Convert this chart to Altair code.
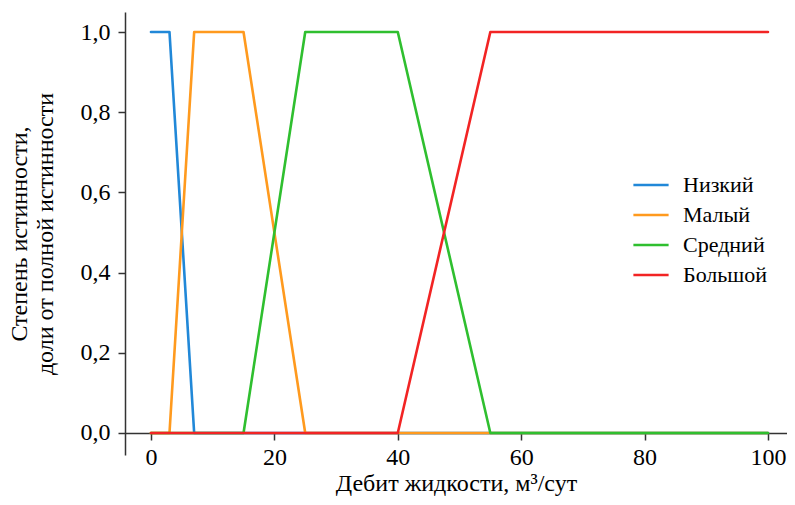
import altair as alt
import pandas as pd

series_names = ["Низкий", "Малый", "Средний", "Большой"]
series_colors = ["#2188d8", "#ff9a1e", "#2fbf2f", "#f22424"]

low_x = [0, 3, 7, 100]
low_y = [1, 1, 0, 0]
small_x = [0, 3, 7, 15, 25, 100]
small_y = [0, 0, 1, 1, 0, 0]
mid_x = [0, 15, 25, 40, 55, 100]
mid_y = [0, 0, 1, 1, 0, 0]
big_x = [0, 40, 55, 100]
big_y = [0, 0, 1, 1]

x_ticks = [0, 20, 40, 60, 80, 100]
y_ticks = [0, 0.2, 0.4, 0.6, 0.8, 1.0]

rows = []
for i, (name, xs, ys) in enumerate(zip(series_names,
                                      [low_x, small_x, mid_x, big_x],
                                      [low_y, small_y, mid_y, big_y])):
    for j, (xv, yv) in enumerate(zip(xs, ys)):
        rows.append({"name": name, "x": xv, "y": yv, "k": i, "o": j})
df = pd.DataFrame(rows)

FONT = "Times New Roman"

x_scale = alt.Scale(domain=[-4.21, 103.08], nice=False, zero=False)
y_scale = alt.Scale(domain=[-0.0549, 1.0499], nice=False, zero=False)

chart = alt.Chart(df).mark_line(strokeWidth=2.6, strokeJoin="round", strokeCap="round").encode(
    x=alt.X("x:Q", scale=x_scale,
            axis=alt.Axis(values=x_ticks, title="Дебит жидкости, м³/сут", offset=-22,
                          grid=False, domainColor="#333333", domainWidth=1.5,
                          tickColor="#333333", tickWidth=1.5, tickSize=7,
                          labelFont=FONT, labelFontSize=24, labelColor="black", labelPadding=5,
                          titleFont=FONT, titleFontSize=24, titleFontWeight="normal",
                          titleColor="black", titlePadding=2)),
    y=alt.Y("y:Q", scale=y_scale,
            axis=alt.Axis(values=y_ticks,
                          labelExpr="replace(format(datum.value, '.1f'), '.', ',')",
                          title=["Степень истинности,", "доли от полной истинности"],
                          grid=False, domainColor="#333333", domainWidth=1.5,
                          tickColor="#333333", tickWidth=1.5, tickSize=7,
                          labelFont=FONT, labelFontSize=24, labelColor="black", labelPadding=8,
                          titleFont=FONT, titleFontSize=24, titleFontWeight="normal",
                          titleColor="black", titleLineHeight=26, titlePadding=23)),
    color=alt.Color("name:N",
                    scale=alt.Scale(domain=series_names, range=series_colors),
                    sort=series_names,
                    legend=alt.Legend(title=None, orient="none", legendX=507, legendY=154,
                                      symbolType="stroke", symbolSize=1240,
                                      symbolStrokeWidth=2.6, labelFont=FONT,
                                      labelFontSize=22, labelColor="black",
                                      labelOffset=13, rowPadding=0)),
    detail="k:O",
    order="o:Q",
).properties(
    width=662, height=443,
    autosize=alt.AutoSizeParams(type="none"),
    padding={"left": 117, "top": 4, "right": 0, "bottom": 42},
).configure_view(strokeWidth=0)

chart.save("out.html", embed_options={"renderer": "svg", "actions": False})
